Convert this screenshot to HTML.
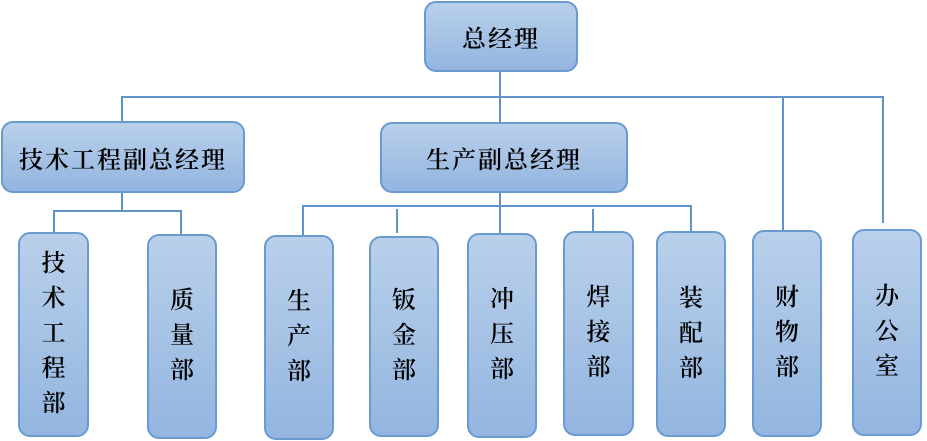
<!DOCTYPE html>
<html><head><meta charset="utf-8"><style>
body{margin:0;width:927px;height:441px;background:#fff;position:relative;overflow:hidden;font-family:"Liberation Serif","Noto Serif CJK SC",serif;}
.b{position:absolute;box-sizing:border-box;border:2px solid #6a9bd0;border-radius:12px;background:linear-gradient(#b9d0ea,#93b5e0);display:flex;align-items:center;justify-content:center;text-align:center;color:#000;font-size:24px;font-weight:600;}
.v{line-height:35px;}
.l{position:absolute;background:#5f93c9;}
</style></head><body>
<div class="l" style="left:499px;top:72px;width:2px;height:50px"></div>
<div class="l" style="left:121px;top:96px;width:763px;height:2px"></div>
<div class="l" style="left:121px;top:96px;width:2px;height:25px"></div>
<div class="l" style="left:782px;top:96px;width:2px;height:134px"></div>
<div class="l" style="left:882px;top:96px;width:2px;height:127px"></div>
<div class="l" style="left:121px;top:193px;width:2px;height:18px"></div>
<div class="l" style="left:53px;top:210px;width:129px;height:2px"></div>
<div class="l" style="left:53px;top:210px;width:2px;height:22px"></div>
<div class="l" style="left:180px;top:210px;width:2px;height:24px"></div>
<div class="l" style="left:302px;top:205px;width:390px;height:2px"></div>
<div class="l" style="left:302px;top:205px;width:2px;height:30px"></div>
<div class="l" style="left:396px;top:209px;width:2px;height:24px"></div>
<div class="l" style="left:499px;top:193px;width:2px;height:40px"></div>
<div class="l" style="left:592px;top:209px;width:2px;height:23px"></div>
<div class="l" style="left:690px;top:205px;width:2px;height:26px"></div>

<div class="b" style="left:424px;top:1px;width:154px;height:71px;letter-spacing:2px">总经理</div>
<div class="b" style="left:1px;top:121px;width:244px;height:72px;letter-spacing:2px">技术工程副总经理</div>
<div class="b" style="left:380px;top:122px;width:248px;height:71px;letter-spacing:2px">生产副总经理</div>

<div class="b v" style="left:18px;top:232px;width:71px;height:205px">技<br>术<br>工<br>程<br>部</div>
<div class="b v" style="left:147px;top:234px;width:70px;height:205px">质<br>量<br>部</div>
<div class="b v" style="left:264px;top:235px;width:70px;height:205px">生<br>产<br>部</div>
<div class="b v" style="left:369px;top:236px;width:70px;height:201px">钣<br>金<br>部</div>
<div class="b v" style="left:467px;top:233px;width:70px;height:205px">冲<br>压<br>部</div>
<div class="b v" style="left:563px;top:231px;width:71px;height:205px">焊<br>接<br>部</div>
<div class="b v" style="left:656px;top:231px;width:70px;height:206px">装<br>配<br>部</div>
<div class="b v" style="left:752px;top:230px;width:70px;height:207px">财<br>物<br>部</div>
<div class="b v" style="left:852px;top:229px;width:70px;height:207px">办<br>公<br>室</div>
</body></html>
